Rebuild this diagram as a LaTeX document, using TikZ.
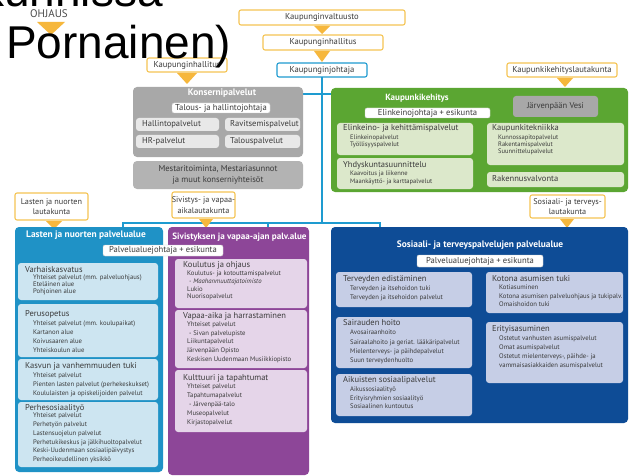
\documentclass[tikz,border=0pt]{standalone}
\usepackage{fontspec}
\setmainfont{PT Sans}
\newfontfamily\bigfont{Liberation Sans}
\usetikzlibrary{calc}
\definecolor{orB}{HTML}{F5C453}
\definecolor{orT}{HTML}{F6B73C}
\definecolor{tealC}{HTML}{1E9BD0}
\definecolor{lcol}{HTML}{1F92C6}
\definecolor{linn}{HTML}{CDE5F1}
\definecolor{pcol}{HTML}{8D4698}
\definecolor{pinn}{HTML}{E5D5E9}
\definecolor{dcol}{HTML}{0E4C96}
\definecolor{dinn}{HTML}{C6CEE6}
\definecolor{gcol}{HTML}{5BA632}
\definecolor{ginn}{HTML}{DCE8CB}
\definecolor{grK}{HTML}{A8A8A8}
\definecolor{grL}{HTML}{E8E8E8}
\definecolor{grM}{HTML}{B3B3B3}
\definecolor{txt}{HTML}{3A3A3A}
\newcommand\bx[6]{\node[#6, anchor=north west, inner sep=0pt, outer sep=0pt, minimum width={(#4-#2)*1pt}, minimum height={(#5-#3)*1pt}] (#1) at (#2,#3) {};}
\newcommand\hdn[4]{\node[hd, anchor=west] (#1) at (#2,#3) {#4};}
\newcommand\lst[6]{\foreach \itm [count=\i from 0] in {#5}{\node[it, #6, anchor=west] (#1-\i) at ({#2},{#3+\i*#4}) {\itm};}}
\begin{document}
\begin{tikzpicture}[x=1pt,y=-1pt,
 lbox/.style={draw=orB, line width=1.1pt, fill=white, rounded corners=2pt},
 jbox/.style={draw=tealC, line width=1.1pt, fill=white, rounded corners=2pt},
 conn/.style={draw=tealC, line width=1.2pt},
 col/.style={rounded corners=4pt},
 inb/.style={rounded corners=3pt},
 wbox/.style={fill=white, draw=black!20, line width=0.4pt, rounded corners=2pt},
 hd/.style={font=\fontsize{8.5}{9.5}\selectfont, text=txt, inner sep=0pt, text height=6pt, text depth=1.6pt},
 it/.style={font=\fontsize{6.7}{7.5}\selectfont, text=txt, inner sep=0pt, text height=4.7pt, text depth=1.3pt},
 itg/.style={font=\fontsize{6.5}{7}\selectfont},
 ttl/.style={font=\bfseries\fontsize{9.4}{10}\selectfont, text=white, inner sep=0pt},
 lt/.style={font=\fontsize{8.6}{10.5}\selectfont, text=txt, inner sep=0pt, align=center},
 lt2/.style={lt, font=\fontsize{8.2}{10.5}\selectfont},
]
\useasboundingbox (0,0) rectangle (629,476);
\fill[white] (0,0) rectangle (629,476);

% connector points
\coordinate (j1) at (322,94);
\coordinate (d1) at (123,223);
\coordinate (d2) at (268,223);
\coordinate (d3) at (380,223);

% top chain
\bx{kv}{239}{10}{405}{25}{lbox}
\node[lt] (kv-t) at (kv) {Kaupunginvaltuusto};
\bx{kh}{263}{35}{383}{50}{lbox}
\node[lt] (kh-t) at (kh) {Kaupunginhallitus};
\bx{kj}{277}{63}{367}{77}{jbox}
\node[lt] (kj-t) at (kj) {Kaupunginjohtaja};
\fill[orT] (314,26) -- (330,26) -- (322,34) -- cycle;
\fill[orT] (314,51) -- (330,51) -- (322,62) -- cycle;

\draw[conn] (kj.south) -- (kj.south |- d1);
\draw[conn] (303,94) -- (332,94);
\draw[conn] (d1 |- 0,228) -- (d1) -- (d3) -- (d3 |- 0,228);
\draw[conn] (d2) -- (d2 |- 0,228);

% OHJAUS
\node[font=\fontsize{11}{12}\selectfont, text=black!70, inner sep=0pt] (ohj) at (49,14) {OHJAUS};
\fill[orT] (37,22) -- (65,22) -- (51,35) -- cycle;

% left Kaupunginhallitus
\bx{kh2}{147}{58}{227}{72}{lbox}
\node[lt] (kh2-t) at (kh2) {Kaupunginhallitus};
\fill[orT] ($(kh2.south)+(-10,1)$) -- ($(kh2.south)+(10,1)$) -- ($(kh2.south)+(0,12)$) -- cycle;

% Konsernipalvelut
\bx{kons}{133}{87}{303}{157}{col, fill=grK}
\node[ttl] (kons-t) at (222,93) {Konsernipalvelut};
\bx{thj}{172}{103}{270}{113}{wbox}
\node[lt] (thj-t) at (thj) {Talous- ja hallintojohtaja};
\bx{hp}{136}{118}{219}{131}{inb, fill=grL}
\hdn{hp-t}{142}{124.5}{Hallintopalvelut}
\bx{rp}{225}{118}{300}{131}{inb, fill=grL}
\hdn{rp-t}{230}{124.5}{Ravitsemispalvelut}
\bx{hr}{136}{135}{219}{148}{inb, fill=grL}
\hdn{hr-t}{142}{141.5}{HR-palvelut}
\bx{tp}{225}{135}{300}{148}{inb, fill=grL}
\hdn{tp-t}{230}{141.5}{Talouspalvelut}
\bx{mes}{133}{161}{303}{189}{col, fill=grM}
\node[lt] (mes-t) at (mes) {Mestaritoiminta, Mestariasunnot\\ja muut konserniyhteisöt};

% Kaupunkikehitys
\bx{kkl}{507}{63}{617}{77}{lbox}
\node[lt] (kkl-t) at (kkl) {Kaupunkikehityslautakunta};
\fill[orT] ($(kkl.south)+(-5,1)$) -- ($(kkl.south)+(11,1)$) -- ($(kkl.south)+(3,10)$) -- cycle;
\bx{kk}{331}{88}{628}{192}{col, fill=gcol}
\node[ttl, font=\bfseries\fontsize{9}{10}\selectfont] (kk-t) at (417,98) {Kaupunkikehitys};
\bx{ejk}{365}{108}{490}{118}{wbox}
\node[lt] (ejk-t) at (ejk) {Elinkeinojohtaja + esikunta};
\bx{jv}{513}{96}{598}{117}{inb, fill=grK}
\node[hd] (jv-t) at (jv) {Järvenpään Vesi};
\bx{ekp}{337}{123}{473}{155}{inb, fill=ginn}
\hdn{ekp-t}{343}{128.5}{Elinkeino- ja kehittämispalvelut}
\lst{ekp-i}{350}{137.5}{7}{Elinkeinopalvelut,Työllisyyspalvelut}{itg}
\bx{yhd}{337}{158}{473}{189}{inb, fill=ginn}
\hdn{yhd-t}{343}{165}{Yhdyskuntasuunnittelu}
\lst{yhd-i}{350}{174}{8}{Kaavoitus ja liikenne,Maankäyttö- ja karttapalvelut}{itg}
\bx{kt}{487}{123}{624}{165}{inb, fill=ginn}
\hdn{kt-t}{492}{128.5}{Kaupunkitekniikka}
\lst{kt-i}{498}{138}{7}{Kunnossapitopalvelut,Rakentamispalvelut,Suunnittelupalvelut}{itg}
\bx{rv}{487}{172}{624}{187}{inb, fill=ginn}
\hdn{rv-t}{492}{179.5}{Rakennusvalvonta}

% lautakunnat
\bx{lnl}{15}{193}{88}{220}{lbox}
\node[lt2] (lnl-t) at (lnl) {Lasten ja nuorten\\lautakunta};
\fill[orT] (46,221) -- (62,221) -- (54,229) -- cycle;
\bx{svl}{172}{192}{235}{218}{lbox}
\node[lt2] (svl-t) at (svl) {Sivistys- ja vapaa-\\aikalautakunta};
\fill[orT] (199,219) -- (213,219) -- (206,228) -- cycle;
\bx{stl}{530}{195}{605}{218}{lbox}
\node[lt2] (stl-t) at (stl) {Sosiaali- ja terveys-\\lautakunta};
\fill[orT] (560,219) -- (574,219) -- (567,228) -- cycle;

% Lasten ja nuorten
\bx{lnp}{15}{227}{163}{472}{col, fill=lcol}
\node[ttl] (lnp-t) at (86,235.5) {Lasten ja nuorten palvelualue};
\bx{vk}{18}{263}{158}{300}{inb, fill=linn}
\hdn{vk-t}{25}{270}{Varhaiskasvatus}
\lst{vk-i}{33}{277.5}{7}{Yhteiset palvelut (mm. palveluohjaus),Eteläinen alue,Pohjoinen alue}{}
\bx{po}{18}{304}{158}{357}{inb, fill=linn}
\hdn{po-t}{25}{314}{Perusopetus}
\lst{po-i}{33}{324}{9}{Yhteiset palvelut (mm. koulupaikat),Kartanon alue,Koivusaaren alue,Yhteiskoulun alue}{}
\bx{kvt}{18}{359}{158}{400}{inb, fill=linn}
\hdn{kvt-t}{25}{366}{Kasvun ja vanhemmuuden tuki}
\lst{kvt-i}{33}{376}{9}{Yhteiset palvelut,Pienten lasten palvelut (perhekeskukset),Koululaisten ja opiskelijoiden palvelut}{}
\bx{ps}{18}{402}{158}{467}{inb, fill=linn}
\hdn{ps-t}{25}{408}{Perhesosiaalityö}
\lst{ps-i}{33}{416}{8.8}{Yhteiset palvelut,Perhetyön palvelut,Lastensuojelun palvelut,Perhetukikeskus ja jälkihuoltopalvelut,Keski-Uudenmaan sosiaalipäivystys,Perheoikeudellinen yksikkö}{}

% Sivistys
\bx{siv}{168}{227}{309}{475}{col, fill=pcol}
\node[ttl, font=\bfseries\fontsize{9.1}{10}\selectfont] (siv-t) at (239.5,237) {Sivistyksen ja vapaa-ajan palv.alue};
\bx{ko}{175}{259}{307}{308}{inb, fill=pinn}
\hdn{ko-t}{183}{265}{Koulutus ja ohjaus}
\lst{ko-i}{187}{274}{7.7}{Koulutus- ja kotouttamispalvelut,{\itshape\hspace{2pt}- Maahanmuuttajatoimisto},Lukio,Nuorisopalvelut}{}
\bx{va}{175}{310}{307}{368}{inb, fill=pinn}
\hdn{va-t}{183}{316}{Vapaa-aika ja harrastaminen}
\lst{va-i}{187}{324.5}{8.8}{Yhteiset palvelut,\hspace{2pt}- Sivan palvelupiste,Liikuntapalvelut,Järvenpään Opisto,Keskisen Uudenmaan Musiikkiopisto}{}
\bx{ku}{175}{370}{307}{432}{inb, fill=pinn}
\hdn{ku-t}{183}{378}{Kulttuuri ja tapahtumat}
\lst{ku-i}{187}{387}{9}{Yhteiset palvelut,Tapahtumapalvelut,\hspace{2pt}- Järvenpää-talo,Museopalvelut,Kirjastopalvelut}{}

\bx{pj1}{103}{245}{223}{256}{wbox}
\node[lt] (pj1-t) at (pj1) {Palvelualuejohtaja + esikunta};

% Sosiaali
\bx{sos}{331}{227}{628}{423}{col, fill=dcol}
\node[ttl] (sos-t) at (480,245) {Sosiaali- ja terveyspalvelujen palvelualue};
\bx{pj2}{417}{255}{543}{267}{wbox}
\node[lt] (pj2-t) at (pj2) {Palvelualuejohtaja + esikunta};
\bx{te}{336}{272}{472}{307}{inb, fill=dinn}
\hdn{te-t}{343}{279}{Terveyden edistäminen}
\lst{te-i}{350}{289}{9}{Terveyden ja itsehoidon tuki,Terveyden ja itsehoidon palvelut}{}
\bx{sh}{336}{317}{472}{368}{inb, fill=dinn}
\hdn{sh-t}{343}{323.5}{Sairauden hoito}
\lst{sh-i}{350}{333}{9.3}{Avosairaanhoito,Sairaalahoito ja geriat. lääkäripalvelut,Mielenterveys- ja päihdepalvelut,Suun terveydenhuolto}{}
\bx{as}{336}{374}{472}{416}{inb, fill=dinn}
\hdn{as-t}{343}{380}{Aikuisten sosiaalipalvelut}
\lst{as-i}{350}{390}{8.5}{Aikussosiaalityö,Erityisryhmien sosiaalityö,Sosiaalinen kuntoutus}{}
\bx{kat}{486}{272}{623}{313}{inb, fill=dinn}
\hdn{kat-t}{492}{279}{Kotona asumisen tuki}
\lst{kat-i}{499}{288}{8.5}{Kotiasuminen,Kotona asumisen palveluohjaus ja tukipalv.,Omaishoidon tuki}{}
\bx{ea}{486}{322}{623}{383}{inb, fill=dinn}
\hdn{ea-t}{492}{329}{Erityisasuminen}
\lst{ea-i}{499}{339}{9}{Ostetut vanhusten asumispalvelut,Omat asumispalvelut,{Ostetut mielenterveys-, päihde- ja},vammaisasiakkaiden asumispalvelut}{}

% overlaid large text
\node[font=\bigfont\fontsize{46}{54}\selectfont, anchor=base east, inner sep=0pt] (big1) at (163,7) {kunnissa};
\node[font=\bigfont\fontsize{46}{54}\selectfont, anchor=base west, inner sep=0pt] (big2) at (6,59) {Pornainen)};
\end{tikzpicture}
\end{document}
